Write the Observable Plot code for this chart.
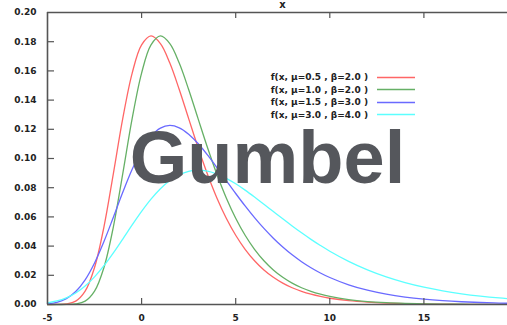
<!DOCTYPE html>
<html>
<head>
<meta charset="utf-8">
<script src="https://cdn.jsdelivr.net/npm/d3@7"></script>
<script src="https://cdn.jsdelivr.net/npm/@observablehq/plot@0.6"></script>
<style>
  html, body { margin: 0; padding: 0; background: #fff; }
  #wrap { position: relative; width: 507px; height: 325px; overflow: hidden; }
  #legend { position: absolute; left: 262px; top: 71px; font: bold 9px "DejaVu Sans", sans-serif; color: #222; }
  .row { display: flex; align-items: center; height: 12.5px; }
  .lab { width: 106px; text-align: right; white-space: nowrap; }
  .sw { width: 38px; height: 9px; margin-left: 9px; }
</style>
</head>
<body>
<div id="wrap"><div id="legend"></div></div>
<script>
const xs = [-5,-4.5,-4,-3.5,-3,-2.5,-2,-1.5,-1,-0.5,0,0.5,1,1.5,2,2.5,3,3.5,4,4.5,5,5.5,6,6.5,7,7.5,8,8.5,9,9.5,10,11,12,13,14,15,16,17,18,19,20];
const s1 = [0.000001,0.000031,0.000359,0.002283,0.009115,0.025355,0.0532,0.089685,0.127455,0.158525,0.1778,0.18394,0.178715,0.165355,0.147265,0.127325,0.107565,0.089255,0.073025,0.059105,0.04743,0.03781,0.029985,0.023685,0.01865,0.01465,0.011485,0.00899,0.00703,0.005493,0.004289,0.00261,0.001587,0.000964,0.000585,0.000355,0.000216,0.000131,0.000079,0.000048,0.000029];
const s2 = [0,0.000001,0.000031,0.000359,0.002283,0.009115,0.025355,0.0532,0.089685,0.127455,0.158525,0.1778,0.18394,0.178715,0.165355,0.147265,0.127325,0.107565,0.089255,0.073025,0.059105,0.04743,0.03781,0.029985,0.023685,0.01865,0.01465,0.011485,0.00899,0.00703,0.005493,0.003347,0.002035,0.001237,0.000751,0.000456,0.000277,0.000168,0.000102,0.000062,0.000037];
const s3 = [0.000471,0.001522,0.004005,0.008854,0.016903,0.028466,0.043144,0.05979,0.076823,0.092587,0.105683,0.115227,0.12084,0.122626,0.121027,0.116663,0.110237,0.102417,0.09381,0.084883,0.076027,0.06751,0.059503,0.052123,0.04542,0.039403,0.03405,0.029337,0.025207,0.021607,0.018485,0.013468,0.009767,0.007058,0.005089,0.003662,0.002632,0.00189,0.001357,0.000973,0.000698];
const s4 = [0.001142,0.0024,0.004558,0.007912,0.012678,0.018939,0.0266,0.035383,0.044843,0.054463,0.063728,0.072125,0.079263,0.084895,0.0889,0.091225,0.09197,0.091288,0.089358,0.086415,0.082678,0.07835,0.073633,0.068693,0.063663,0.058663,0.053783,0.04909,0.044628,0.04043,0.036513,0.029553,0.023715,0.018905,0.014993,0.011843,0.009325,0.007325,0.005743,0.004495,0.003515];
const seriesNames = ["f(x, μ=0.5 , β=2.0 )","f(x, μ=1.0 , β=2.0 )","f(x, μ=1.5 , β=3.0 )","f(x, μ=3.0 , β=4.0 )"];
const seriesColors = ["#ff6666","#66b066","#6a6aff","#5cffff"];
const xTicks = [-5,0,5,10,15];
const yTicks = [0,0.02,0.04,0.06,0.08,0.10,0.12,0.14,0.16,0.18,0.20];
const xDomain = [-5, 20];
const yDomain = [0, 0.2];
const watermark = "Gumbel";
const axisTitle = "x";

const allSeries = [s1,s2,s3,s4];
const data = [];
allSeries.forEach((s, i) => xs.forEach((x, j) => data.push({x, y: s[j], name: seriesNames[i]})));

const xRange = [47, 517.5], yRange = [304, 12];
// tick lengths in pixels converted to data units through the scale extents
const xPerPx = (xDomain[1] - xDomain[0]) / (xRange[1] - xRange[0]);
const yPerPx = (yDomain[1] - yDomain[0]) / (yRange[0] - yRange[1]);
const yTickLen = 7 * xPerPx, xTickLen = 6 * yPerPx;

const frameColor = "#555";
const chart = Plot.plot({
  width: 507,
  height: 325,
  marginLeft: 47,
  marginRight: 0,
  marginTop: 12,
  marginBottom: 21,
  style: {background: "transparent", overflow: "hidden"},
  x: {domain: xDomain, range: xRange},
  y: {domain: yDomain, range: yRange},
  color: {domain: seriesNames, range: seriesColors},
  marks: [
    Plot.line(data, {x: "x", y: "y", z: "name", stroke: "name", strokeWidth: 1.3, curve: "catmull-rom"}),
    Plot.text([watermark], {frameAnchor: "middle", dx: -10, dy: 1, fontSize: 74, fontWeight: "bold", fontFamily: "Liberation Sans, Arial, sans-serif", fill: "#55575c"}),
    Plot.ruleY(yDomain, {x1: xDomain[0], x2: xDomain[1], stroke: frameColor, strokeWidth: 1.6}),
    Plot.ruleX([xDomain[0]], {y1: yDomain[0], y2: yDomain[1], stroke: frameColor, strokeWidth: 1.6}),
    Plot.ruleY(yTicks.slice(1, -1), {x1: xDomain[0], x2: xDomain[0] + yTickLen, stroke: frameColor, strokeWidth: 1.2}),
    Plot.ruleX(xTicks.slice(1), {y1: yDomain[0], y2: yDomain[0] + xTickLen, stroke: frameColor, strokeWidth: 1.2}),
    Plot.ruleX(xTicks.slice(1), {y1: yDomain[1] - xTickLen, y2: yDomain[1], stroke: frameColor, strokeWidth: 1.2}),
    Plot.axisY(yTicks, {anchor: "left", tickSize: 0, tickPadding: 11, tickFormat: d3.format(".2f"), fontSize: 9, fontWeight: "bold", fontFamily: "DejaVu Sans, sans-serif", fill: "#222", label: null}),
    Plot.axisX(xTicks, {anchor: "bottom", tickSize: 0, tickPadding: 10, tickFormat: d => String(d).replace("−", "-"), fontSize: 9, fontWeight: "bold", fontFamily: "DejaVu Sans, sans-serif", fill: "#222", label: null}),
    Plot.text([axisTitle], {frameAnchor: "top", lineAnchor: "bottom", dx: 5, dy: -5, fontSize: 10, fontWeight: "bold", fontFamily: "DejaVu Sans, sans-serif", fill: "#222"})
  ]
});
const wrap = document.getElementById("wrap");
wrap.insertBefore(chart, wrap.firstChild);

const legend = document.getElementById("legend");
seriesNames.forEach((n, i) => {
  const row = document.createElement("div");
  row.className = "row";
  const lab = document.createElement("span");
  lab.className = "lab";
  lab.textContent = n;
  const sw = document.createElementNS("http://www.w3.org/2000/svg", "svg");
  sw.setAttribute("class", "sw");
  sw.setAttribute("width", "38");
  sw.setAttribute("height", "9");
  const ln = document.createElementNS("http://www.w3.org/2000/svg", "line");
  ln.setAttribute("x1", "0"); ln.setAttribute("x2", "38");
  ln.setAttribute("y1", "4.5"); ln.setAttribute("y2", "4.5");
  ln.setAttribute("stroke", seriesColors[i]);
  ln.setAttribute("stroke-width", "1.4");
  sw.appendChild(ln);
  row.appendChild(lab);
  row.appendChild(sw);
  legend.appendChild(row);
});
</script>
</body>
</html>
